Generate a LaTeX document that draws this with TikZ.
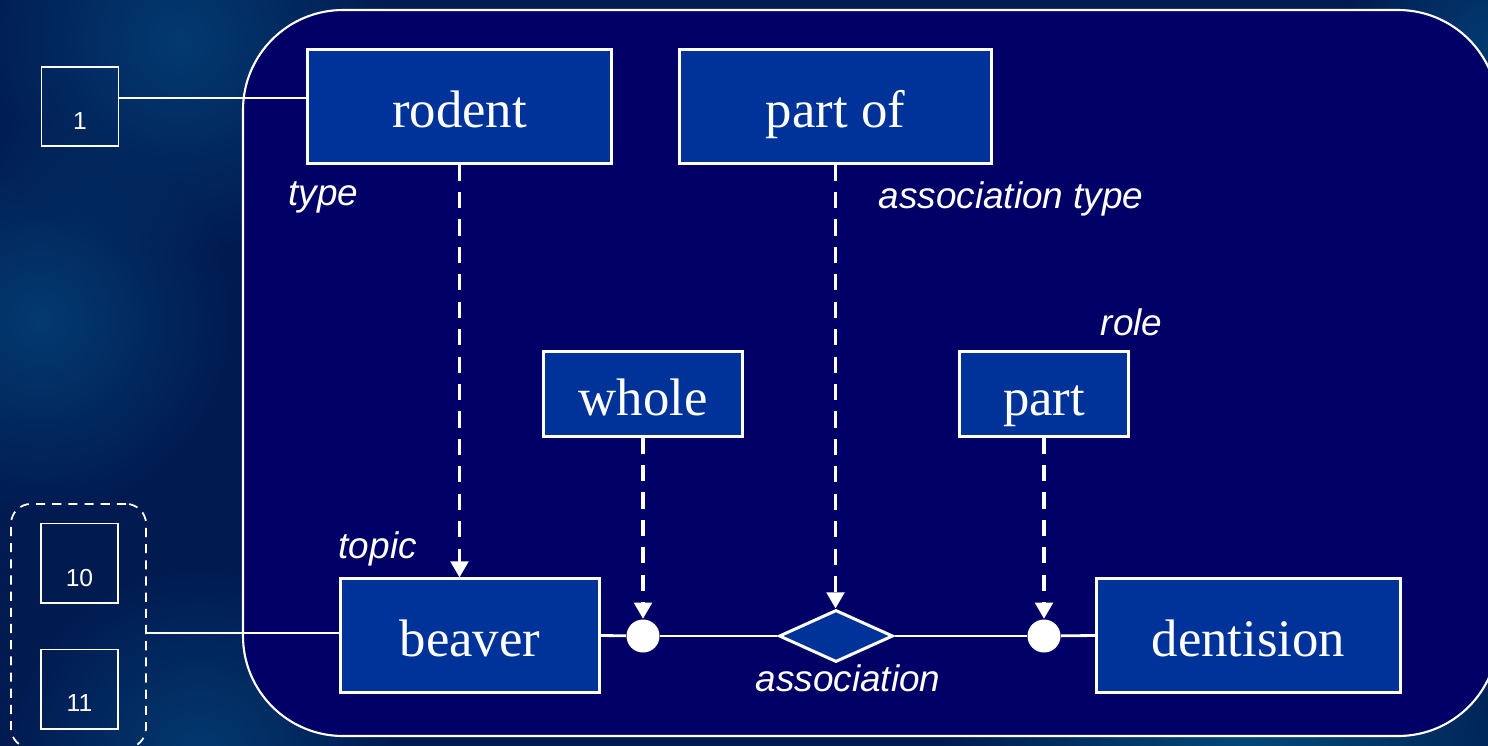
\documentclass[tikz,border=0pt]{standalone}
\usepackage{fontspec}
\setmainfont{Liberation Serif}
\newfontfamily\arialfont{Liberation Sans}
\usetikzlibrary{shapes.geometric,arrows.meta,fadings}
\definecolor{navy}{HTML}{000066}
\definecolor{nodeblue}{HTML}{003399}
\definecolor{bgdark}{HTML}{011A50}
\definecolor{bglight}{HTML}{033A70}
\definecolor{bgteal}{HTML}{034C78}
\tikzfading[name=softglow, inner color=transparent!0, outer color=transparent!100]
\tikzset{
  box/.style={draw=white, line width=0.85pt, fill=nodeblue, text=white,
    font=\fontsize{15}{18}\selectfont, inner sep=0pt, minimum height=1.13cm,
    text height=12pt, text depth=0pt},
  numbox/.style={draw=white, line width=0.55pt, minimum width=0.77cm,
    minimum height=0.79cm, inner sep=0pt},
  numtext/.style={text=white, font=\arialfont\fontsize{7}{8}\selectfont, inner sep=0pt},
  lbl/.style={text=white, font=\arialfont\itshape\fontsize{10.5}{12}\selectfont, inner sep=0pt},
  conn/.style={white, line width=0.6pt},
  mainline/.style={white, line width=0.8pt},
  dasharrow/.style={white, line width=1pt, dash pattern=on 4.6pt off 3.2pt,
    -{Triangle[width=5pt,length=4.6pt]}},
  dot/.style={circle, fill=white, minimum size=0.33cm, inner sep=0pt},
  assoc/.style={diamond, draw=white, line width=0.85pt, fill=nodeblue,
    minimum width=1.14cm, minimum height=0.52cm, inner sep=0pt},
  grp/.style={draw=white, line width=0.5pt, dash pattern=on 2.6pt off 2pt,
    rounded corners=0.2cm, minimum width=1.35cm, minimum height=2.44cm, inner sep=0pt}
}
\begin{document}
\begin{tikzpicture}[x=0.01cm,y=-0.01cm]
\useasboundingbox (0,0) rectangle (1488,745);
\clip (-10,-10) rectangle (1498,755);
% background
\fill[bgdark] (-10,-10) rectangle (1498,755);
\fill[bglight, path fading=softglow] (180,40) circle (220);
\fill[bglight, path fading=softglow] (40,320) circle (200);
\fill[bglight, path fading=softglow] (1488,40) circle (150);
\fill[bgteal, path fading=softglow] (1250,780) circle (320);
\fill[bglight, path fading=softglow] (200,760) circle (200);
% main frame
\draw[white, line width=0.6pt, fill=navy, rounded corners=1cm] (243,10) rectangle (1498,736);

% nodes
\node[box, minimum width=3.03cm] (rodent) at (459.5,106.5) {rodent};
\node[box, minimum width=3.11cm] (partof) at (835.5,106.5) {part of};
\node[box, minimum width=1.98cm, minimum height=0.84cm] (whole) at (643,394) {whole};
\node[box, minimum width=1.68cm, minimum height=0.84cm] (part) at (1044,394) {part};
\node[box, minimum width=2.58cm] (beaver) at (470,635.5) {beaver};
\node[box, minimum width=3.03cm] (dent) at (1248.5,635.5) {dentision};
\node[assoc] (as) at (836,636) {};
\node[dot] (d1) at (643,636) {};
\node[dot] (d2) at (1044,636) {};

\node[numbox, label={[numtext, yshift=-0.145cm]center:1}] (b1) at (80,106.5) {};
\node[numbox] (b10) at (79.5,563) [label={[numtext, yshift=-0.15cm]center:10}] {};
\node[numbox] (b11) at (79.5,689) [label={[numtext, yshift=-0.14cm]center:11}] {};
\node[grp] (grp) at (78.5,626) {};

% labels
\node[lbl, anchor=base west] (ltype) at (288,205) {type};
\node[lbl, anchor=base west] (lassoct) at (878,208) {association type};
\node[lbl, anchor=base west] (lrole) at (1100,335) {role};
\node[lbl, anchor=base west] (ltopic) at (338,558) {topic};
\node[lbl, anchor=base west] (lassoc) at (755,691) {association};

% connectors
\coordinate (ya) at (0,98);
\coordinate (yb) at (0,633);
\draw[conn] (b1.east |- ya) -- (rodent.west |- ya);
\draw[conn] (grp.east |- yb) -- (beaver.west |- yb);
\draw[mainline] (beaver.east) -- (d1);
\draw[mainline] (d1) -- (as);
\draw[mainline] (as) -- (d2);
\draw[mainline] (d2) -- (dent.west);

\draw[dasharrow] (rodent.south) -- (rodent.south |- beaver.north);
\draw[dasharrow] (whole.south) -- (d1.north);
\draw[dasharrow] (partof.south) -- (partof.south |- as.north);
\draw[dasharrow] (part.south) -- (d2.north);
\end{tikzpicture}
\end{document}
